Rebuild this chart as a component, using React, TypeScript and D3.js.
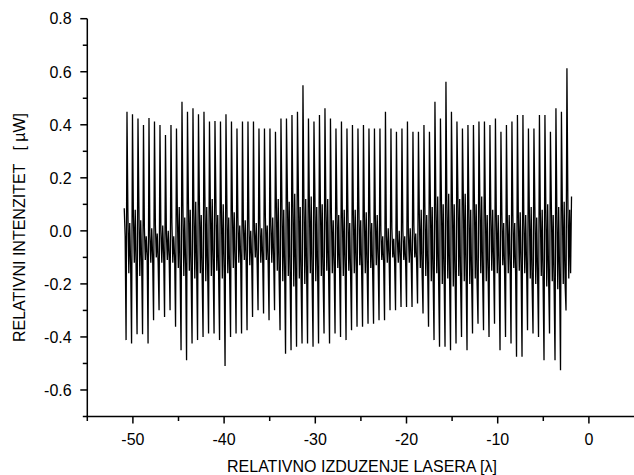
import React from "react";
import * as d3 from "d3";

// ---- data ----
const peaks = [
  0.449, 0.44, 0.424, 0.399, 0.426, 0.412, 0.399, 0.361, 0.399, 0.386,
  0.487, 0.449, 0.462, 0.44, 0.449, 0.412, 0.414, 0.412, 0.44, 0.412,
  0.386, 0.412, 0.412, 0.412, 0.386, 0.386, 0.386, 0.374, 0.424, 0.424,
  0.437, 0.449, 0.549, 0.424, 0.412, 0.437, 0.462, 0.424, 0.386, 0.412,
  0.386, 0.399, 0.386, 0.399, 0.386, 0.386, 0.386, 0.449, 0.386, 0.374,
  0.386, 0.412, 0.374, 0.374, 0.399, 0.374, 0.487, 0.424, 0.562, 0.449,
  0.412, 0.386, 0.399, 0.399, 0.412, 0.412, 0.399, 0.424, 0.374, 0.399,
  0.412, 0.437, 0.437, 0.386, 0.386, 0.437, 0.437, 0.374, 0.462, 0.449,
  0.613,
];
const troughs = [
  -0.412, -0.425, -0.39, -0.39, -0.425, -0.337, -0.299, -0.325, -0.299, -0.362,
  -0.45, -0.488, -0.425, -0.412, -0.4, -0.387, -0.387, -0.412, -0.51, -0.4,
  -0.387, -0.387, -0.375, -0.325, -0.299, -0.312, -0.337, -0.299, -0.375, -0.463,
  -0.45, -0.437, -0.425, -0.425, -0.437, -0.425, -0.387, -0.425, -0.387, -0.4,
  -0.412, -0.375, -0.362, -0.362, -0.35, -0.35, -0.337, -0.337, -0.299, -0.299,
  -0.287, -0.287, -0.287, -0.274, -0.312, -0.362, -0.412, -0.437, -0.437, -0.45,
  -0.425, -0.4, -0.45, -0.387, -0.35, -0.375, -0.4, -0.35, -0.45, -0.4,
  -0.425, -0.475, -0.475, -0.375, -0.387, -0.4, -0.488, -0.387, -0.488, -0.526,
  -0.3,
];
const bandHigh = [
  0.07, 0.05, 0.09, 0.01, -0.02, 0.02, 0.0, -0.01, 0.03, 0.06,
  0.1, 0.12, 0.08, 0.11, 0.13, 0.09, 0.12, 0.07, 0.1, 0.08,
  0.05, 0.02, 0.04, 0.0, 0.03, 0.05, 0.02, 0.09, 0.12, 0.15,
  0.11, 0.16, 0.13, 0.1, 0.14, 0.12, 0.09, 0.07, 0.09, 0.05,
  0.08, 0.06, 0.09, 0.05, 0.07, 0.04, 0.0, -0.02, 0.01, -0.03,
  0.0, -0.01, 0.02, 0.05, 0.09, 0.12, 0.1, 0.14, 0.11, 0.13,
  0.15, 0.12, 0.1, 0.13, 0.11, 0.09, 0.06, 0.04, 0.07, 0.03,
  0.06, 0.05, 0.04, 0.07, 0.09, 0.06, 0.08, 0.1, 0.07, 0.09,
  0.12,
];
const bandLow = [
  -0.16, -0.12, -0.17, -0.11, -0.12, -0.1, -0.12, -0.11, -0.12, -0.14,
  -0.17, -0.15, -0.18, -0.16, -0.19, -0.17, -0.15, -0.18, -0.16, -0.14,
  -0.12, -0.11, -0.13, -0.1, -0.12, -0.11, -0.12, -0.15, -0.19, -0.17,
  -0.21, -0.18, -0.2, -0.16, -0.19, -0.17, -0.15, -0.16, -0.14, -0.17,
  -0.15, -0.16, -0.13, -0.16, -0.14, -0.13, -0.11, -0.12, -0.1, -0.12,
  -0.11, -0.12, -0.1, -0.14, -0.17, -0.19, -0.16, -0.2, -0.18, -0.21,
  -0.17, -0.19, -0.2, -0.18, -0.16, -0.19, -0.15, -0.16, -0.13, -0.16,
  -0.14, -0.15, -0.16, -0.18, -0.2, -0.17, -0.21, -0.19, -0.22, -0.2,
  -0.18,
];
const bandHigh2 = [
  0.03, 0.08, 0.04, -0.02, 0.01, -0.01, 0.02, 0.0, -0.02, 0.09,
  0.05, 0.08, 0.11, 0.06, 0.09, 0.12, 0.06, 0.1, 0.05, 0.07,
  0.02, 0.04, 0.0, 0.03, 0.01, 0.02, 0.05, 0.12, 0.08, 0.11,
  0.14, 0.09, 0.12, 0.13, 0.09, 0.1, 0.12, 0.04, 0.06, 0.08,
  0.03, 0.08, 0.04, 0.07, 0.03, 0.06, -0.02, 0.01, -0.03, 0.0,
  -0.02, 0.01, -0.01, 0.08, 0.06, 0.09, 0.13, 0.1, 0.14, 0.1,
  0.12, 0.14, 0.08, 0.1, 0.13, 0.06, 0.08, 0.06, 0.03, 0.06,
  0.03, 0.07, 0.06, 0.09, 0.05, 0.08, 0.1, 0.06, 0.09, 0.11,
  0.08,
];
const bandLow2 = [
  -0.13, -0.15, -0.12, -0.09, -0.1, -0.12, -0.09, -0.1, -0.1, -0.16,
  -0.13, -0.17, -0.14, -0.17, -0.15, -0.13, -0.17, -0.14, -0.17, -0.12,
  -0.1, -0.12, -0.1, -0.12, -0.1, -0.12, -0.1, -0.18, -0.15, -0.19,
  -0.17, -0.2, -0.16, -0.19, -0.16, -0.18, -0.17, -0.13, -0.16, -0.14,
  -0.17, -0.13, -0.15, -0.14, -0.15, -0.11, -0.12, -0.1, -0.12, -0.1,
  -0.12, -0.1, -0.12, -0.16, -0.14, -0.17, -0.19, -0.17, -0.19, -0.18,
  -0.2, -0.17, -0.18, -0.2, -0.17, -0.16, -0.13, -0.15, -0.16, -0.13,
  -0.16, -0.14, -0.14, -0.2, -0.17, -0.2, -0.18, -0.21, -0.18, -0.2,
  -0.16,
];
const startValues = [0.085, -0.02];
const endValues = [0.13];
const X_START = -50.95; // first sample position
const X_STEP = 0.1005; // sampling step

const xMajor = [-50, -40, -30, -20, -10, 0];
const xMinor = [-55, -45, -35, -25, -15, -5];
const yMajor = [-0.6, -0.4, -0.2, 0, 0.2, 0.4, 0.6, 0.8];
const yMinor = [-0.7, -0.5, -0.3, -0.1, 0.1, 0.3, 0.5, 0.7];

const X_TITLE = "RELATIVNO IZDUZENJE LASERA [λ]";
const Y_TITLE = "RELATIVNI INTENZITET   [ µW]";

const FONT = "'Liberation Sans', Arial, sans-serif";
const fmtY = (v: number) => d3.format(".1f")(v).replace("\u2212", "-");
const fmtX = (v: number) => d3.format("d")(v).replace("\u2212", "-");

export default function App() {
  const W = 634;
  const H = 475;
  const x = d3.scaleLinear().domain([-55, 5]).range([87.3, 634.5]);
  const y = d3.scaleLinear().domain([-0.7, 0.8]).range([416.5, 18.7]);

  const values: number[] = [...startValues];
  for (let i = 0; i < peaks.length; i++) {
    values.push(troughs[i], peaks[i], bandHigh[i], bandLow[i], bandHigh2[i], bandLow2[i]);
  }
  values.push(...endValues);
  const pts: [number, number][] = values.map((v, k) => [X_START + k * X_STEP, v]);

  const line = d3
    .line<[number, number]>()
    .x((d) => x(d[0]))
    .y((d) => y(d[1]));

  const x0 = x(-55);
  const yBase = y(-0.7);

  return (
    <svg
      width={W}
      height={H}
      style={{ position: "absolute", left: 0, top: 0, background: "#fff" }}
      fontFamily={FONT}
    >
      <rect x={0} y={0} width={W} height={H} fill="#fff" />
      <path d={line(pts) || ""} fill="none" stroke="#000" strokeWidth={1.3} strokeLinejoin="miter" strokeMiterlimit={2} />
      {/* axes */}
      <line x1={x0} x2={x0} y1={y(0.8)} y2={yBase + 0.5} stroke="#000" strokeWidth={1.5} />
      <line x1={x0 - 0.7} x2={W} y1={yBase} y2={yBase} stroke="#000" strokeWidth={1.5} />
      {yMajor.map((v) => (
        <g key={"ym" + v}>
          <line x1={x0 - 7} x2={x0} y1={y(v)} y2={y(v)} stroke="#000" strokeWidth={1.5} />
          <text x={71.7} y={y(v)} dy="0.36em" textAnchor="end" fontSize={16}>
            {fmtY(v)}
          </text>
        </g>
      ))}
      {yMinor.map((v) => (
        <line key={"yn" + v} x1={x0 - 4.5} x2={x0} y1={y(v)} y2={y(v)} stroke="#000" strokeWidth={1.5} />
      ))}
      {xMajor.map((v) => (
        <g key={"xm" + v}>
          <line x1={x(v)} x2={x(v)} y1={yBase} y2={yBase + 7} stroke="#000" strokeWidth={1.5} />
          <text x={x(v)} y={445} textAnchor="middle" fontSize={16}>
            {fmtX(v)}
          </text>
        </g>
      ))}
      {xMinor.map((v) => (
        <line key={"xn" + v} x1={x(v)} x2={x(v)} y1={yBase} y2={yBase + 4.5} stroke="#000" strokeWidth={1.5} />
      ))}
      <text x={362} y={472} textAnchor="middle" fontSize={16}>
        {X_TITLE}
      </text>
      <text
        transform="translate(25,227.5) rotate(-90)"
        textAnchor="middle"
        fontSize={16}
        style={{ whiteSpace: "pre" }}
      >
        {Y_TITLE}
      </text>
    </svg>
  );
}
